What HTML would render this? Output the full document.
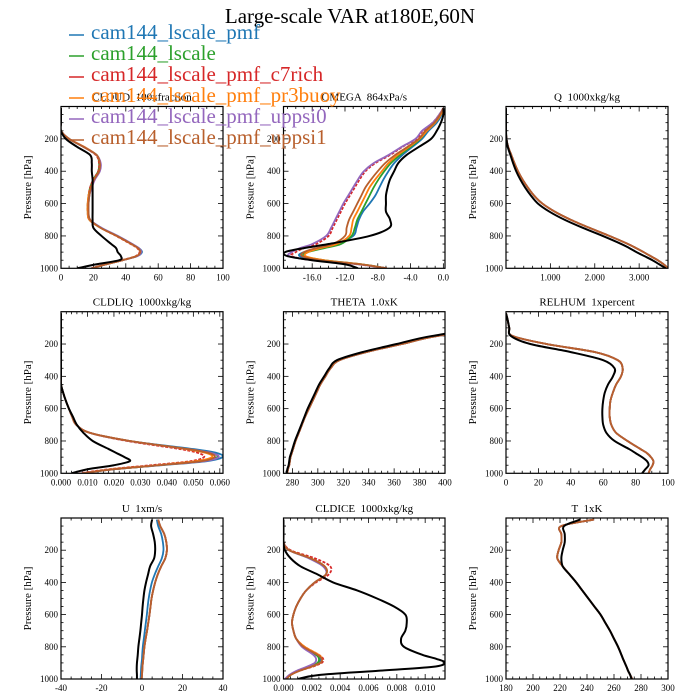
<!DOCTYPE html>
<html><head><meta charset="utf-8"><style>
html,body{margin:0;padding:0;background:#fff;}
svg{display:block;font-family:"Liberation Serif",serif;}
text{white-space:pre;}
</style></head><body>
<svg id="chart" width="700" height="700" viewBox="0 0 700 700">
<text x="350" y="23" text-anchor="middle" font-size="21">Large-scale VAR at180E,60N</text>
<g id="panels"></g>
<g id="legend"></g>
</svg>
<script>
const levels=[10,50,100,150,200,250,300,350,400,450,500,550,600,650,700,750,800,850,875,900,925,950,975,1000];
const seriesNames=["cam144_lscale_pmf","cam144_lscale","cam144_lscale_pmf_c7rich","cam144_lscale_pmf_pr3buoy","cam144_lscale_pmf_uppsi0","cam144_lscale_pmf_uppsi1"];
const seriesColors=["#1f77b4","#2ca02c","#d62728","#ff7f0e","#9467bd","#b85f2c"];

// CLOUD
const cloudObs=[0,0,0,0,3,10,18,19,19,19.5,19.5,19.5,19.5,19.5,19.5,20,25,31,34,35,37,36,22,10];
const cloudPmf=[0,0,0,0,5,14,22,24,23.5,20.5,18.5,17.5,17,17,18,25,35,44,48,50,47,38,28,19];
const cloudLscale=[0,0,0,0,5,14,22,23.5,23,20,18,17,16.5,16.5,17.5,24.5,34.5,43.5,47.5,49,46.5,38,28,19];
const cloudC7=[0,0,0,0,5,14,21.5,23.5,23,20,18,17,16.5,16.5,17.5,24.5,34,43,47,48.5,46,37.5,27.5,18.5];
const cloudPr3=[0,0,0,0,5,14.5,22,24,23.5,20.5,18.5,17,16.5,16.5,17.5,24.5,34.5,43.5,47.5,49,46.5,38,28,19];
const cloudU0=[0,0,0,0,5,14,22,24.5,24,21,19,17.5,17,17,18,25,35,44,48,49.5,47,38,28,19];
const cloudU1=[0,0,0,0,5,14,22,24,23.5,20.5,18.5,17.5,17,17,18,24.5,34.5,43.5,47.5,49,46.5,38,28,19];
// OMEGA
const omegaObs=[0,0,-0.3,-0.8,-1.5,-3,-4.5,-5.5,-6,-6.5,-6.8,-7,-7,-7,-6.5,-6.6,-9,-14,-17,-19.3,-19,-16,-12,-10.4];
const omegaPmf=[0,-0.2,-0.8,-1.8,-2.6,-3.8,-5,-6,-6.7,-7.3,-7.8,-8.3,-9,-9.8,-10.3,-10.6,-11,-13,-15,-17,-17.5,-15,-10,-6.9];
const omegaLscale=[0,-0.3,-1,-2,-2.8,-4,-5.3,-6.4,-7.2,-7.9,-8.5,-9,-9.5,-10,-10.5,-10.8,-11.2,-12.5,-14.5,-16.5,-17,-14.5,-10,-6.9];
const omegaC7=[0,-0.5,-1.3,-2.5,-3.3,-5,-6.5,-8.3,-9.5,-10.2,-10.8,-11.4,-12,-12.5,-13,-13.5,-14,-15.5,-17,-18,-18.5,-16,-10.5,-6.9];
const omegaPr3=[0,-0.3,-1,-2,-2.9,-4.2,-5.6,-6.7,-7.5,-8.3,-9,-9.5,-10,-10.5,-11,-11.2,-11.5,-13,-15,-16.5,-16.8,-14.5,-10,-6.9];
const omegaU0=[0,-0.5,-1.3,-2.6,-3.4,-5.1,-6.7,-8.5,-9.7,-10.4,-11,-11.6,-12.2,-12.7,-13.2,-13.7,-14.3,-16,-17.5,-18.5,-18.8,-16,-10.5,-6.9];
const omegaU1=[0,-0.4,-1.1,-2.2,-3,-4.4,-5.9,-7.1,-8,-8.8,-9.5,-10,-10.5,-11,-11.5,-11.8,-12,-13.5,-15.5,-17,-17.2,-15,-10.2,-6.9];
// Q
const qObs=[0,0,0,0,0.01,0.04,0.1,0.16,0.23,0.32,0.43,0.56,0.72,0.98,1.32,1.73,2.18,2.6,2.78,2.94,3.12,3.3,3.45,3.6];
const qModel=[0,0,0,0,0.01,0.05,0.12,0.19,0.27,0.37,0.49,0.63,0.82,1.1,1.46,1.88,2.33,2.75,2.93,3.1,3.26,3.42,3.55,3.65];
// CLDLIQ
const liqObs=[0,0,0,0,0,0,0,0,0,0,0.0008,0.0018,0.003,0.0045,0.006,0.0085,0.012,0.018,0.021,0.024,0.026,0.02,0.01,0.004];
const liqPmf=[0,0,0,0,0,0,0,0,0,0,0.0008,0.0018,0.003,0.0042,0.0058,0.011,0.026,0.05,0.059,0.061,0.055,0.038,0.02,0.008];
const liqLscale=[0,0,0,0,0,0,0,0,0,0,0.0008,0.0018,0.003,0.0042,0.0058,0.011,0.026,0.048,0.057,0.059,0.053,0.037,0.02,0.008];
const liqC7=[0,0,0,0,0,0,0,0,0,0,0.0008,0.0018,0.003,0.0042,0.0058,0.011,0.025,0.045,0.052,0.054,0.049,0.034,0.018,0.007];
const liqPr3=[0,0,0,0,0,0,0,0,0,0,0.0008,0.0018,0.003,0.0042,0.0058,0.011,0.026,0.047,0.055,0.057,0.051,0.036,0.019,0.008];
const liqU0=[0,0,0,0,0,0,0,0,0,0,0.0008,0.0018,0.003,0.0042,0.0058,0.011,0.026,0.048,0.057,0.0595,0.054,0.037,0.02,0.008];
const liqU1=[0,0,0,0,0,0,0,0,0,0,0.0008,0.0018,0.003,0.0042,0.0058,0.011,0.026,0.048,0.056,0.058,0.053,0.037,0.02,0.008];
// THETA
const thetaObs=[700,560,440,390,362,335,315,309,305,301,298,295,292,289.5,287,284.5,282,280,279,278,277.5,277,276,275.5];
const thetaModel=[700,560,445,394,366,338,317,310,306,302,299,296,293,290,287.5,285,282.5,280.5,279.5,278.5,278,277.5,276.5,276];
// RELHUM
const rhObs=[0,1,2,3,15,40,60,67,66,63,61,60,59.5,59.5,60,62,67,76,80,84,87,88,86,84];
const rhModel=[0,1,2,4,25,55,69,72,71,68,66,64.5,64,64,65,68,75,83,87,89.5,91,90.5,89,88];
// U
const uObs=[5,4.5,5.5,6.3,6.5,6,4,3,2,1.2,0.7,0.3,0,-0.4,-0.8,-1.3,-1.8,-2.1,-2.3,-2.5,-2.6,-2.6,-2.5,-2.5];
const uPmf=[7.3,8,9.5,10.3,10.6,9.8,8,6.3,4.9,4,3.3,2.8,2.4,1.9,1.4,0.9,0.4,0.1,0,-0.2,-0.4,-0.5,-0.6,-0.7];
const uModel=[8,9,11,12,12.3,11.5,9.5,7.8,6.5,5.5,4.7,4.2,3.7,3.1,2.5,1.8,1.2,0.8,0.6,0.4,0.2,0.1,0,-0.2];
// CLDICE
const iceObs=[0,0,0,0,0.0001,0.0005,0.0012,0.0024,0.0035,0.0052,0.0066,0.0078,0.0086,0.0087,0.0086,0.0083,0.0085,0.0098,0.0108,0.0114,0.0105,0.0065,0.0025,0.001];
const icePmf=[0,0,0,0,0.0004,0.0018,0.0028,0.003,0.0022,0.0016,0.0012,0.0009,0.0007,0.0006,0.0007,0.0009,0.0014,0.0023,0.0026,0.0025,0.0019,0.0011,0.0005,0.0002];
const iceLscale=[0,0,0,0,0.0004,0.0019,0.0029,0.003,0.0022,0.0016,0.0012,0.0009,0.0007,0.0006,0.0007,0.0009,0.0014,0.0023,0.0025,0.0024,0.0018,0.001,0.0005,0.0002];
const iceC7=[0,0,0,0,0.0005,0.0022,0.0033,0.0032,0.0023,0.0016,0.0012,0.0009,0.0007,0.0006,0.0007,0.0009,0.0015,0.0025,0.0028,0.0027,0.002,0.0011,0.0005,0.0002];
const icePr3=[0,0,0,0,0.0004,0.0019,0.0029,0.003,0.0022,0.0016,0.0012,0.0009,0.0007,0.0006,0.0007,0.0009,0.0015,0.0025,0.0027,0.0026,0.0019,0.0011,0.0005,0.0002];
const iceU0=[0,0,0,0,0.0004,0.0018,0.0028,0.003,0.0022,0.0016,0.0012,0.0009,0.0007,0.0006,0.0007,0.0009,0.0013,0.0021,0.0023,0.0022,0.0016,0.0009,0.0004,0.0001];
const iceU1=[0,0,0,0,0.0004,0.0019,0.0029,0.003,0.0022,0.0016,0.0012,0.0009,0.0007,0.0006,0.0007,0.0009,0.0014,0.0024,0.0027,0.0026,0.0019,0.0011,0.0005,0.0002];
// T
const tObs=[235,223,223.5,223.5,222,221,222,227,232,236.5,241,245.5,250,253.5,257,260,263,265.5,266.7,268,269.3,270.5,272,273];
const tModel=[245,221,221,221,219,218,222,227,232,236.5,241,245.5,250,253.5,257,260,263,265.5,266.7,268,269.3,270.5,272,273.5];

const omegaTicks=[-16,-12,-8,-4,0];
const cloudTicks=[0,20,40,60,80,100];
const qTicks=[1,2,3];
const liqTicks=[0,0.01,0.02,0.03,0.04,0.05,0.06];
const thetaTicks=[280,300,320,340,360,380,400];
const uTicks=[-40,-20,0,20,40];
const iceTicks=[0,0.002,0.004,0.006,0.008,0.010];
const tTicks=[180,200,220,240,260,280,300];
const pTicks=[200,400,600,800,1000];

const colX=[[61,223],[283.5,445],[506,668]];
const rowY=[[106.5,268.3],[311.7,473.3],[518,679]];

const panels=[
 {name:"cloud",title:"CLOUD  100xfraction",c:0,r:0,xmin:0,xmax:100,ticks:cloudTicks,minor:5,fmt:v=>String(v),obs:cloudObs,models:[cloudPmf,cloudLscale,cloudC7,cloudPr3,cloudU0,cloudU1]},
 {name:"omega",title:"OMEGA  864xPa/s",c:1,r:0,xmin:-19.5,xmax:0.2,ticks:omegaTicks,minor:1,fmt:v=>v.toFixed(1),obs:omegaObs,models:[omegaPmf,omegaLscale,omegaC7,omegaPr3,omegaU0,omegaU1]},
 {name:"q",title:"Q  1000xkg/kg",c:2,r:0,xmin:0,xmax:3.65,ticks:qTicks,minor:0.2,fmt:v=>v.toFixed(3),obs:qObs,models:[qModel,qModel,qModel,qModel,qModel,qModel]},
 {name:"cldliq",title:"CLDLIQ  1000xkg/kg",c:0,r:1,xmin:0,xmax:0.0612,ticks:liqTicks,minor:0.002,fmt:v=>v.toFixed(3),obs:liqObs,models:[liqPmf,liqLscale,liqC7,liqPr3,liqU0,liqU1]},
 {name:"theta",title:"THETA  1.0xK",c:1,r:1,xmin:273,xmax:400,ticks:thetaTicks,minor:5,fmt:v=>String(v),obs:thetaObs,models:[thetaModel,thetaModel,thetaModel,thetaModel,thetaModel,thetaModel]},
 {name:"relhum",title:"RELHUM  1xpercent",c:2,r:1,xmin:0,xmax:100,ticks:cloudTicks,minor:5,fmt:v=>String(v),obs:rhObs,models:[rhModel,rhModel,rhModel,rhModel,rhModel,rhModel]},
 {name:"u",title:"U  1xm/s",c:0,r:2,xmin:-40,xmax:40,ticks:uTicks,minor:5,fmt:v=>String(v),obs:uObs,models:[uPmf,uModel,uModel,uModel,uModel,uModel]},
 {name:"cldice",title:"CLDICE  1000xkg/kg",c:1,r:2,xmin:0,xmax:0.0114,ticks:iceTicks,minor:0.0005,fmt:v=>v.toFixed(3),obs:iceObs,models:[icePmf,iceLscale,iceC7,icePr3,iceU0,iceU1]},
 {name:"t",title:"T  1xK",c:2,r:2,xmin:180,xmax:300,ticks:tTicks,minor:5,fmt:v=>String(v),obs:tObs,models:[tModel,tModel,tModel,tModel,tModel,tModel]}
];

const NS="http://www.w3.org/2000/svg";
function mk(tag,attrs,parent){const e=document.createElementNS(NS,tag);for(const k in attrs)e.setAttribute(k,attrs[k]);parent.appendChild(e);return e;}
function smooth(pts){
  let d="M"+pts[0][0].toFixed(2)+","+pts[0][1].toFixed(2);
  for(let i=0;i<pts.length-1;i++){
    const p0=pts[Math.max(0,i-1)],p1=pts[i],p2=pts[i+1],p3=pts[Math.min(pts.length-1,i+2)];
    const c1x=p1[0]+(p2[0]-p0[0])/6,c1y=p1[1]+(p2[1]-p0[1])/6;
    const c2x=p2[0]-(p3[0]-p1[0])/6,c2y=p2[1]-(p3[1]-p1[1])/6;
    d+="C"+c1x.toFixed(2)+","+c1y.toFixed(2)+" "+c2x.toFixed(2)+","+c2y.toFixed(2)+" "+p2[0].toFixed(2)+","+p2[1].toFixed(2);
  }
  return d;
}
const root=document.getElementById("panels");

panels.forEach((pn,i)=>{
  const [x0,x1]=colX[pn.c],[y0,y1]=rowY[pn.r];
  const xs=v=>x0+(v-pn.xmin)/(pn.xmax-pn.xmin)*(x1-x0);
  const ys=p=>y0+p/1000*(y1-y0);
  const g=mk("g",{},root);
  
  
  const t=mk("text",{x:(x0+x1)/2,y:y0-6,"text-anchor":"middle","font-size":"11"},g);t.textContent=pn.title;
  
  
  const cp=mk("clipPath",{id:"clip"+i},g);mk("rect",{x:x0,y:y0,width:x1-x0,height:y1-y0},cp);
  const tk=mk("g",{stroke:"#000","stroke-width":"0.8"},g);
  
  
  const start=Math.ceil(pn.xmin/pn.minor-1e-9);
  for(let k=start;k*pn.minor<=pn.xmax+1e-12;k++){const v=k*pn.minor,x=xs(v);
    const major=pn.ticks.some(tv=>Math.abs(tv-v)<pn.minor/10);const L=major?5:2.5;
    mk("line",{x1:x,y1:y1,x2:x,y2:y1-L},tk);mk("line",{x1:x,y1:y0,x2:x,y2:y0+L},tk);}
  for(let p=50;p<1000;p+=50){const y=ys(p),L=(p%200===0)?5:2.5;
    mk("line",{x1:x0,y1:y,x2:x0+L,y2:y},tk);mk("line",{x1:x1,y1:y,x2:x1-L,y2:y},tk);}
  pn.ticks.forEach(v=>{const l=mk("text",{x:xs(v),y:y1+12,"text-anchor":"middle","font-size":"9"},g);l.textContent=pn.fmt(v);
    
    });
  pTicks.forEach(p=>{const l=mk("text",{x:x0-3,y:ys(p)+3,"text-anchor":"end","font-size":"9"},g);l.textContent=String(p);
    
    });
  const yl=mk("text",{x:0,y:0,"text-anchor":"middle","font-size":"11",transform:`translate(${x0-30},${(y0+y1)/2}) rotate(-90)`},g);yl.textContent="Pressure [hPa]";
  
  
  const lg=mk("g",{"clip-path":`url(#clip${i})`,fill:"none","stroke-linejoin":"round"},g);
  const path=arr=>smooth(arr.map((v,j)=>[xs(v),ys(levels[j])]));
  pn.models.forEach((arr,m)=>{const pl=mk("path",{d:path(arr),stroke:seriesColors[m],"stroke-width":"1.8"},lg);
    if(m===2)pl.setAttribute("stroke-dasharray","3,1.5");
    
    });
  const ob=mk("path",{d:path(pn.obs),stroke:"#000","stroke-width":"2"},lg);
  
  
  const fr=mk("rect",{x:x0,y:y0,width:x1-x0,height:y1-y0,fill:"none",stroke:"#000","stroke-width":"1.2"},g);
  
  
});

const leg=document.getElementById("legend");
seriesNames.forEach((n,k)=>{const by=39+k*21;
  const e=mk("g",{},leg);
  
  
  mk("line",{x1:69,y1:by-4,x2:84,y2:by-4,stroke:seriesColors[k],"stroke-width":"1.5"},e);
  const t=mk("text",{x:91,y:by,"font-size":"21",fill:seriesColors[k]},e);t.textContent=n;});
</script>
</body></html>
